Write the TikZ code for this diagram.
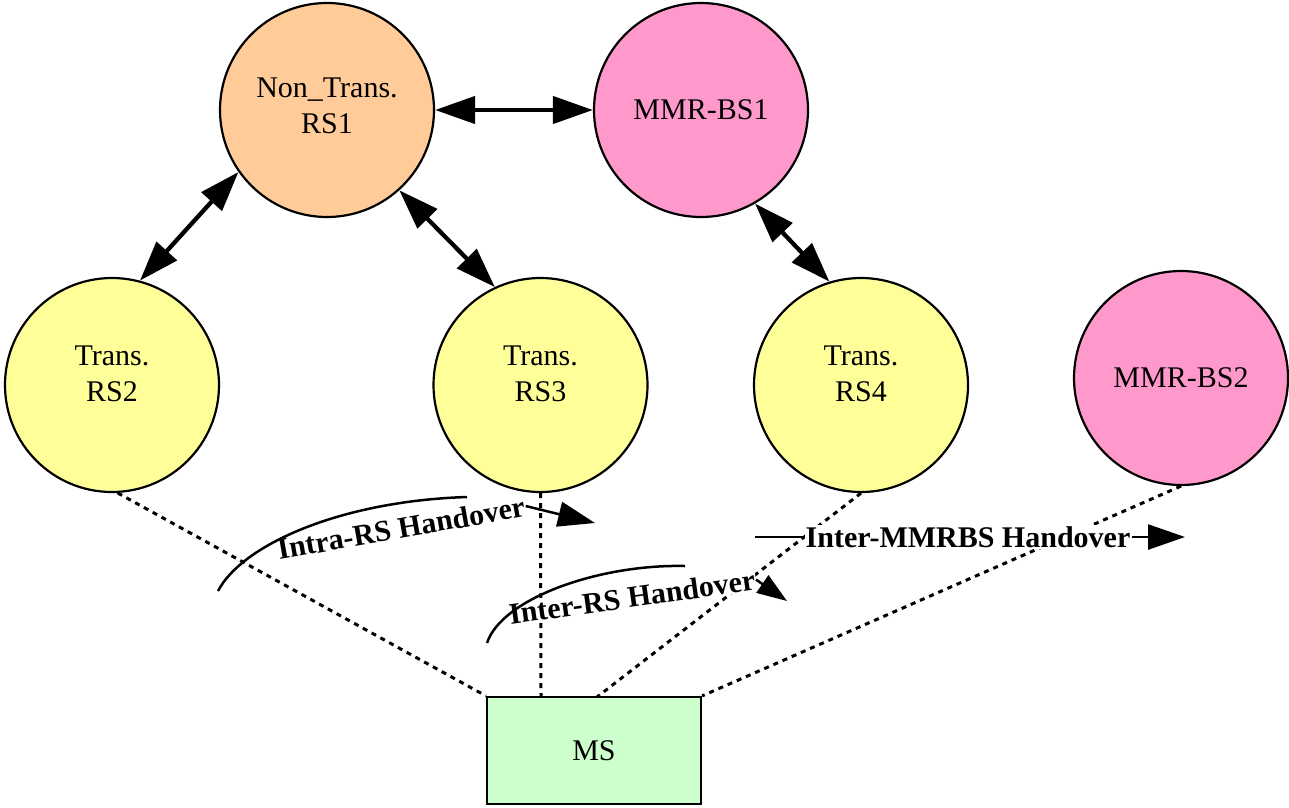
\documentclass[tikz,border=0pt]{standalone}
\usepackage{fontspec}
\setmainfont{Liberation Serif}
\usetikzlibrary{arrows.meta}
\definecolor{peach}{HTML}{FFCC99}
\definecolor{pinkbs}{HTML}{FF99CC}
\definecolor{yellowrs}{HTML}{FFFF99}
\definecolor{greenms}{HTML}{CCFFCC}
\begin{document}
\begin{tikzpicture}[x=1pt,y=-1pt,
  stn/.style={circle,draw,line width=2.2pt,minimum size=214pt,inner sep=0pt,align=center,font=\fontsize{30}{36}\selectfont},
  stxt/.style={align=center,inner sep=0pt,font=\fontsize{30}{36}\selectfont},
  dbl/.style={{Triangle[length=40pt,width=27pt]}-{Triangle[length=40pt,width=27pt]},line width=4.3pt},
  link/.style={line width=3pt,dash pattern=on 5pt off 5pt},
  hlabel/.style={font=\bfseries\fontsize{30}{34}\selectfont,fill=white,inner sep=1pt},
  hline/.style={line width=2.5pt},
  harrow/.style={line width=2.5pt,-{Triangle[length=37pt,width=25pt]}},
  harrows/.style={line width=2.5pt,-{Triangle[length=30pt,width=21pt]}}
]
\useasboundingbox (0,0) rectangle (1289,807);
% stations
\node[stn,fill=peach] (RS1) at (327,110) {};
\node[stxt] (RS1t) at (327,106) {Non\_Trans.\\RS1};
\node[stn,fill=pinkbs] (BS1) at (701,110) {MMR-BS1};
\node[stn,fill=yellowrs] (RS2) at (112,385) {};
\node[stxt] (RS2t) at (112,374) {Trans.\\RS2};
\node[stn,fill=yellowrs] (RS3) at (540.5,385) {};
\node[stxt] (RS3t) at (540.5,373.5) {Trans.\\RS3};
\node[stn,fill=yellowrs] (RS4) at (861,385) {};
\node[stxt] (RS4t) at (861,374) {Trans.\\RS4};
\node[stn,fill=pinkbs] (BS2) at (1181,378) {MMR-BS2};
\node[draw,line width=2.2pt,fill=greenms,minimum width=214pt,minimum height=107pt,inner sep=0pt,font=\fontsize{30}{34}\selectfont] (MS) at (594,750.5) {MS};
% relay links
\draw[dbl] (RS1.east) -- (BS1.west);
\draw[dbl] (RS1.215) -- (RS2.75);
\draw[dbl] (RS1.312) -- (RS3.115);
\draw[dbl] (BS1.300) -- (RS4.107);
% radio links
\coordinate (m2) at (541,697);
\coordinate (m3) at (597,697);
\draw[link] (RS2.273) -- (MS.north west);
\draw[link] (RS3.south) -- (m2);
\draw[link] (RS4.south) -- (m3);
\draw[link] (BS2.south) -- (MS.north east);
% handover labels
\node[hlabel,rotate=10] (intra) at (401,528) {Intra-RS Handover};
\node[hlabel,rotate=8] (inter) at (632,597) {Inter-RS Handover};
\node[hlabel] (mmr) at (968,537) {Inter-MMRBS Handover};
% handover arrows
\coordinate (intraS) at (218,591);
\coordinate (intraE) at (467,497);
\coordinate (intraT) at (595,523);
\draw[hline] (intraS) .. controls (242,545) and (340,501) .. (intraE);
\draw[harrow] (intra.east) -- (intraT);
\coordinate (interS) at (487,643);
\coordinate (interE) at (685,566);
\coordinate (interT) at (787,601);
\draw[hline] (interS) .. controls (502,598) and (600,564) .. (interE);
\draw[harrows] (inter.east) -- (interT);
\coordinate (mmrS) at (755,537);
\coordinate (mmrT) at (1185,537);
\draw[hline] (mmrS) -- (mmr.west);
\draw[harrow] (mmr.east) -- (mmrT);
\end{tikzpicture}
\end{document}
